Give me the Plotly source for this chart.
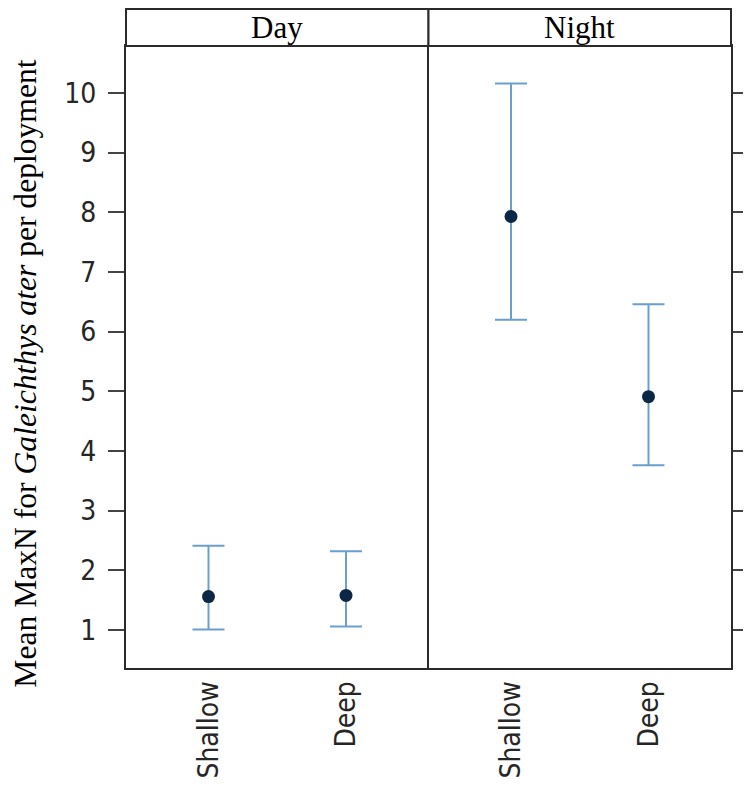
import plotly.graph_objects as go
from plotly.subplots import make_subplots

categories = ["Shallow", "Deep"]
panels = ["Day", "Night"]
day_mean = [1.56, 1.58]
day_upper = [2.41, 2.32]
day_lower = [1.01, 1.06]
night_mean = [7.93, 4.91]
night_upper = [10.16, 6.46]
night_lower = [6.20, 3.76]
y_ticks = [1, 2, 3, 4, 5, 6, 7, 8, 9, 10]

W, H = 748, 789
ML, MR, MT, MB = 126, 7, 9, 121
plot_h = H - MT - MB
plot_w = W - ML - MR
strip_h = 37
ytop = 1 - strip_h / plot_h

fig = make_subplots(rows=1, cols=2, horizontal_spacing=0)

xpos = list(range(1, len(categories) + 1))
series = [(day_mean, day_upper, day_lower), (night_mean, night_upper, night_lower)]
for i, (m, u, l) in enumerate(series):
    fig.add_trace(go.Scatter(
        x=xpos, y=m, mode="markers",
        marker=dict(color="#0c2746", size=13),
        error_y=dict(type="data", symmetric=False,
                     array=[a - b for a, b in zip(u, m)],
                     arrayminus=[b - c for b, c in zip(m, l)],
                     color="#6a9fcf", thickness=2, width=16),
        showlegend=False), row=1, col=i + 1)

frame_col = "#2b2b2b"
tick_font = dict(family="DejaVu Sans Condensed, DejaVu Sans", size=28, color="#262626")
for i in range(2):
    xa = "xaxis" if i == 0 else "xaxis2"
    fig.layout[xa].update(
        domain=[0.5 * i, 0.5 * (i + 1)], range=[0.4, 2.6],
        tickvals=xpos, ticktext=categories, tickangle=-90,
        ticks="", showgrid=False, zeroline=False,
        showline=True, linecolor=frame_col, linewidth=2, mirror=True,
        tickfont=tick_font)

yrange = [0.363, 10.788]
fig.update_layout(
    yaxis=dict(domain=[0, ytop], range=yrange, tickvals=y_ticks,
               ticks="outside", ticklen=16, tickwidth=1.5, tickcolor="#444",
               ticklabelstandoff=6,
               showgrid=False, zeroline=False, showline=True,
               linecolor=frame_col, linewidth=2, mirror=False,
               tickfont=tick_font),
    yaxis2=dict(domain=[0, ytop], range=yrange, tickvals=y_ticks, side="right",
                ticks="outside", ticklen=10, tickwidth=1.5, tickcolor="#444",
                showticklabels=False, showgrid=False, zeroline=False,
                showline=True, linecolor=frame_col, linewidth=2, mirror=True,
                anchor="x2"),
)

shapes = []
annotations = []
for i, p in enumerate(panels):
    shapes.append(dict(type="rect", xref="paper", yref="paper",
                       x0=0.5 * i, x1=0.5 * (i + 1), y0=ytop, y1=1,
                       line=dict(color=frame_col, width=2), fillcolor="white"))
    annotations.append(dict(text=p, xref="paper", yref="paper",
                            x=0.5 * i + 0.25, y=(ytop + 1) / 2,
                            xanchor="center", yanchor="middle", showarrow=False,
                            font=dict(family="Liberation Serif", size=31, color="black")))

annotations.append(dict(
    text="Mean MaxN for <i>Galeichthys ater</i> per deployment",
    xref="paper", yref="paper", x=(23 - ML) / plot_w, y=(668 - 374) / plot_h,
    xanchor="center", yanchor="middle", textangle=-90, showarrow=False,
    font=dict(family="Liberation Serif", size=31.6, color="black")))

fig.update_layout(
    width=W, height=H, margin=dict(l=ML, r=MR, t=MT, b=MB),
    paper_bgcolor="white", plot_bgcolor="white",
    shapes=shapes, annotations=annotations)

fig.write_html("out.html")
